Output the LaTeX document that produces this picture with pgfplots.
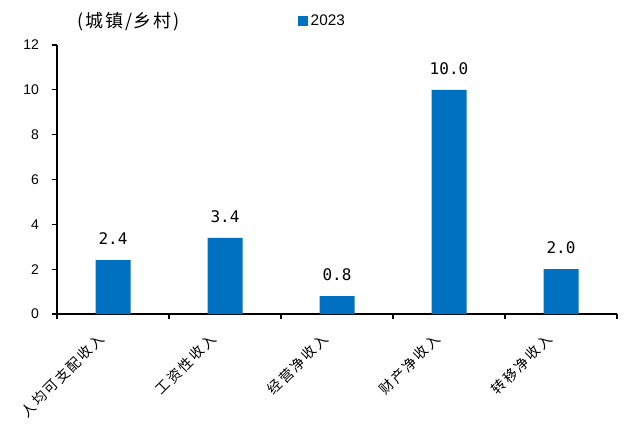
\documentclass[border=0pt]{standalone}
\usepackage{pgfplots}
\pgfplotsset{compat=1.18}
\usepackage{fontspec}
\setmainfont{Liberation Sans}
\newfontfamily\cjk{Noto Sans CJK SC}
\newfontfamily\cjkspaced[LetterSpace=14]{Noto Sans CJK SC}
\newfontfamily\cjktitle[LetterSpace=10]{Noto Sans CJK SC}
\newfontfamily\monofont{DejaVu Sans Mono}
\definecolor{barblue}{RGB}{0,112,192}
\begin{document}
\begin{tikzpicture}[x=1pt,y=1pt]
\useasboundingbox (0,0) rectangle (468.75,318.75);
\begin{axis}[
  at={(42.75pt,83.25pt)}, anchor=south west,
  scale only axis, width=420pt, height=201.75pt,
  xmin=-0.5, xmax=4.5, ymin=0, ymax=12,
  axis lines=left, axis line style={-, black, line width=0.8pt},
  ytick={0,2,...,12},
  xtick={0,1,2,3,4},
  xticklabels={人均可支配收入,工资性收入,经营净收入,财产净收入,转移净收入},
  minor xtick={-0.5,0.5,1.5,2.5,3.5,4.5},
  major x tick style={draw=none},
  minor x tick style={black, line width=0.8pt},
  ytick style={black, line width=0.8pt},
  tick align=outside,
  major tick length=4pt, minor tick length=4pt,
  /pgf/number format/assume math mode=true,
  yticklabel style={font=\fontsize{10.5}{12}\selectfont, xshift=-6pt},
  xticklabel style={font=\cjkspaced\fontsize{10.5}{12}\selectfont, rotate=45, anchor=east, xshift=-12pt, yshift=-3pt},
  ybar, bar width=26.25pt,
  nodes near coords,
  nodes near coords style={font=\monofont\fontsize{12}{14}\selectfont, anchor=south, yshift=8pt,
    /pgf/number format/.cd, fixed, fixed zerofill, precision=1},
  legend style={at={(0.43,1.088)}, anchor=west, draw=none, fill=none, inner sep=0pt,
    font=\fontsize{11.5}{12}\selectfont},
  legend image code/.code={\fill[barblue] (0pt,-3.75pt) rectangle (7.5pt,3.75pt);},
  clip=false,
]
\addplot[fill=barblue, draw=none] coordinates {(0,2.4) (1,3.4) (2,0.8) (3,10.0) (4,2.0)};
\addlegendentry{2023}
\node[font=\cjktitle\fontsize{13.5}{16}\selectfont, anchor=center] at (rel axis cs:0.128,1.088) {(城镇/乡村)};
\end{axis}
\end{tikzpicture}
\end{document}
